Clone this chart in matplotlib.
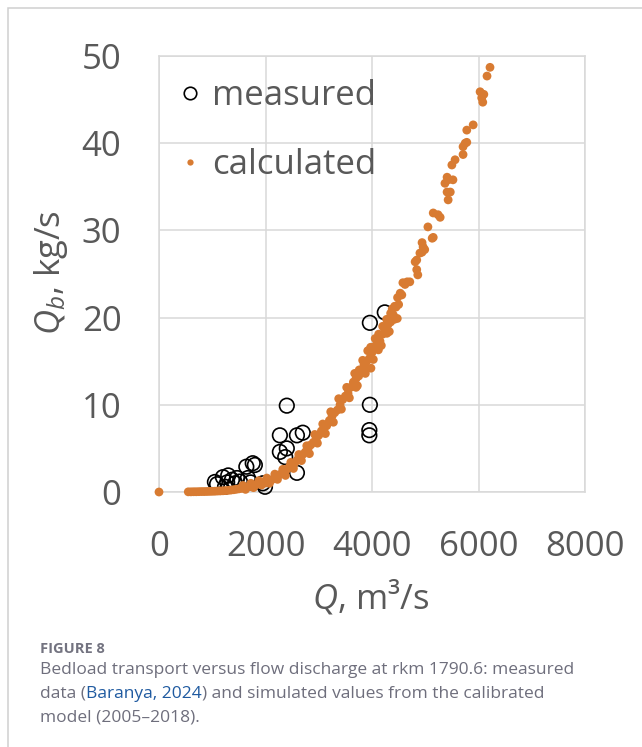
import matplotlib
matplotlib.use("Agg")
import matplotlib.pyplot as plt
from matplotlib.lines import Line2D
from matplotlib.patches import Rectangle

plt.rcParams['font.family'] = ['Open Sans', 'DejaVu Sans']
plt.rcParams['mathtext.fontset'] = 'custom'
plt.rcParams['mathtext.rm'] = 'Open Sans'
plt.rcParams['mathtext.it'] = 'Open Sans:italic'

# measured bedload (Q in m3/s, Qb in kg/s)
meas_q = [1050, 1090, 1200, 1240, 1280, 1300, 1370, 1430, 1465, 1520,
          1640, 1670, 1760, 1800, 1950, 1990, 1720,
          2270, 2370, 2400, 2270, 2590, 2590, 2700, 2400,
          3960, 3960, 3950, 3950, 4240]
meas_qb = [1.15, 0.9, 1.7, 0.6, 1.1, 1.9, 1.4, 1.0, 1.6, 1.2,
           2.9, 1.6, 3.3, 3.1, 1.0, 0.6, 1.1,
           4.6, 4.0, 5.0, 6.5, 6.5, 2.2, 6.8, 9.9,
           19.4, 10.0, 7.1, 6.5, 20.6]

# calculated bedload from the calibrated model
calc_q = [0,
          550, 600, 650, 700, 750, 800, 850, 900, 950, 1000,
          1050, 1100, 1150, 1200, 1250, 1300, 1350, 1400, 1450, 1500,
          1550, 1600, 1650, 1700, 1750, 1800, 1850, 1900, 1950, 2000,
          2050, 2100, 2150, 2200, 2250, 2300, 2350, 2400, 2450, 2500,
          2550, 2600, 2650, 2700, 2750, 2800, 2850, 2900, 2950, 3000,
          3050, 3100, 3150, 3200, 3250, 3300, 3350, 3400, 3450, 3500,
          3550, 3600, 3650, 3700, 3750, 3800, 3850, 3900, 3950, 4000,
          4050, 4100, 4150, 4200, 4250, 4300, 4350, 4400, 4450, 4500,
          # wetter / drier years spread around the main band
          1575, 1725, 1875, 2025, 2175, 2325, 2475, 2625, 2775, 2925,
          3075, 3225, 3375, 3525, 3675, 3825, 3975, 4125, 4275, 4425,
          1625, 1775, 1925, 2075, 2225, 2375, 2525, 2675, 2825, 2975,
          3125, 3275, 3425, 3575, 3725, 3875, 4025, 4175, 4325, 4475,
          3700, 3760, 3860, 3920, 3980, 4060, 4120, 4200, 4280, 4350,
          4380, 4420, 4480, 4530, 4560,
          4580, 4620, 4660, 4710, 4810, 4840, 4840, 4860, 4900, 4940,
          4940, 4960, 4990, 5050, 5130, 5150, 5150, 5240, 5280, 5370,
          5410, 5410, 5430, 5430, 5470, 5500, 5520, 5560, 5710, 5710,
          5750, 5780, 5780, 5900, 6030, 6060, 6080, 6100, 6160, 6216]
calc_qb = [0.0,
           0.02, 0.02, 0.03, 0.03, 0.04, 0.05, 0.05, 0.06, 0.07, 0.08,
           0.09, 0.11, 0.12, 0.14, 0.16, 0.19, 0.22, 0.26, 0.31, 0.36,
           0.42, 0.48, 0.55, 0.62, 0.70, 0.80, 0.90, 1.00, 1.10, 1.05,
           1.25, 1.35, 1.50, 1.70, 1.95, 2.10, 2.30, 2.60, 2.90, 3.10,
           3.35, 3.70, 4.10, 4.30, 4.60, 5.00, 5.40, 5.70, 6.00, 6.50,
           7.00, 7.30, 7.60, 8.20, 8.70, 9.10, 9.40, 10.0, 10.6, 11.0,
           11.3, 12.0, 12.6, 13.0, 13.3, 14.0, 14.6, 15.0, 15.3, 16.0,
           16.7, 17.0, 17.3, 18.1, 18.8, 19.2, 19.5, 20.3, 21.2, 21.5,
           0.75, 1.00, 1.30, 1.60, 2.05, 2.60, 3.40, 4.30, 5.30, 6.60,
           7.80, 9.20, 10.7, 12.0, 13.6, 15.1, 16.6, 18.1, 19.8, 21.3,
           0.30, 0.50, 0.80, 1.00, 1.45, 1.90, 2.70, 3.60, 4.40, 5.60,
           6.70, 8.00, 9.50, 10.8, 12.2, 13.6, 15.2, 16.8, 18.4, 19.9,
           12.0, 14.0, 13.9, 16.2, 14.2, 17.6, 16.3, 19.0, 18.2, 20.5,
           21.0, 19.8, 22.3, 22.8, 22.6,
           24.0, 23.8, 24.1, 24.1, 26.4, 26.6, 25.5, 24.9, 27.4, 28.6,
           27.5, 28.1, 27.8, 30.4, 29.1, 29.2, 32.0, 31.8, 31.5, 35.4,
           36.1, 34.4, 35.8, 33.5, 34.4, 37.5, 35.8, 38.1, 39.6, 38.7,
           40.0, 40.1, 41.5, 42.1, 45.9, 45.2, 44.7, 45.6, 47.7, 48.7]

x_ticks = [0, 2000, 4000, 6000, 8000]
y_ticks = [0, 10, 20, 30, 40, 50]

orange = '#D87B32'
grid_c = '#D9D9D9'
tick_c = '#595959'

fig = plt.figure(figsize=(6.42, 7.47), dpi=100)
ax = fig.add_axes([159 / 642, 1 - 492 / 747, 426 / 642, 436 / 747])

ax.scatter(meas_q, meas_qb, s=110, facecolors='none', edgecolors='black',
           linewidths=1.2, zorder=3, clip_on=False)
ax.scatter(calc_q, calc_qb, s=40, color=orange, edgecolors='none',
           zorder=4, clip_on=False)

ax.set_xlim(0, 8000)
ax.set_ylim(0, 50)
ax.set_xticks(x_ticks)
ax.set_yticks(y_ticks)
ax.grid(True, color=grid_c, linewidth=1.1)
ax.set_axisbelow(True)
for sp in ax.spines.values():
    sp.set_color(grid_c)
    sp.set_linewidth(1.1)
ax.tick_params(length=0, labelsize=25, labelcolor=tick_c)
ax.tick_params(axis='x', pad=27)
ax.tick_params(axis='y', pad=27)

handles = [Line2D([], [], ls='none', marker='o', ms=9, mfc='none',
                  mec='black', mew=1.2),
           Line2D([], [], ls='none', marker='o', ms=4.5, mfc=orange,
                  mec='none')]
ax.legend(handles, ['measured', 'calculated'], loc='upper left',
          bbox_to_anchor=(0.040, 0.948), frameon=False, fontsize=25,
          handlelength=0.8, handletextpad=0.23, labelspacing=1.02,
          borderpad=0, borderaxespad=0, labelcolor=tick_c)

fig.text(51 / 642, 1 - 273 / 747, r'$Q_b$, kg/s', rotation=90, fontsize=25,
         color=tick_c, ha='center', va='center')
fig.text(371 / 642, 1 - 597 / 747, r'$Q$, m³/s', fontsize=25,
         color=tick_c, ha='center', va='center')

# outer panel border
fig.add_artist(Rectangle((8 / 642, -0.05), 1.0, 1 - 8 / 747 + 0.05,
                         transform=fig.transFigure, fill=False,
                         edgecolor='#CFCFCF', linewidth=1.1))

cap_c = '#6E6E7C'
link_c = '#1F5AA0'
cap_fs = 12.5
fig.text(40 / 642, 1 - 653 / 747, 'FIGURE 8', fontsize=10.5, weight='bold',
         color='#737380', va='baseline')
fig.text(40 / 642, 1 - 674 / 747,
         'Bedload transport versus flow discharge at rkm 1790.6: measured',
         fontsize=cap_fs, color=cap_c, va='baseline')
t1 = fig.text(40 / 642, 1 - 698 / 747, 'data (', fontsize=cap_fs,
              color=cap_c, va='baseline')
t2 = fig.text(0, 0, 'Baranya, 2024', fontsize=cap_fs, color=link_c,
              va='baseline')
t3 = fig.text(0, 0, ') and simulated values from the calibrated',
              fontsize=cap_fs, color=cap_c, va='baseline')
fig.text(40 / 642, 1 - 721 / 747, 'model (2005\u20132018).', fontsize=cap_fs,
         color=cap_c, va='baseline')

# chain the pieces of the second caption line
fig.canvas.draw()
r = fig.canvas.get_renderer()
bb = t1.get_window_extent(r)
t2.set_position((bb.x1 / fig.bbox.width, 1 - 698 / 747))
bb = t2.get_window_extent(r)
t3.set_position((bb.x1 / fig.bbox.width, 1 - 698 / 747))

fig.savefig('out.png', dpi=100)
